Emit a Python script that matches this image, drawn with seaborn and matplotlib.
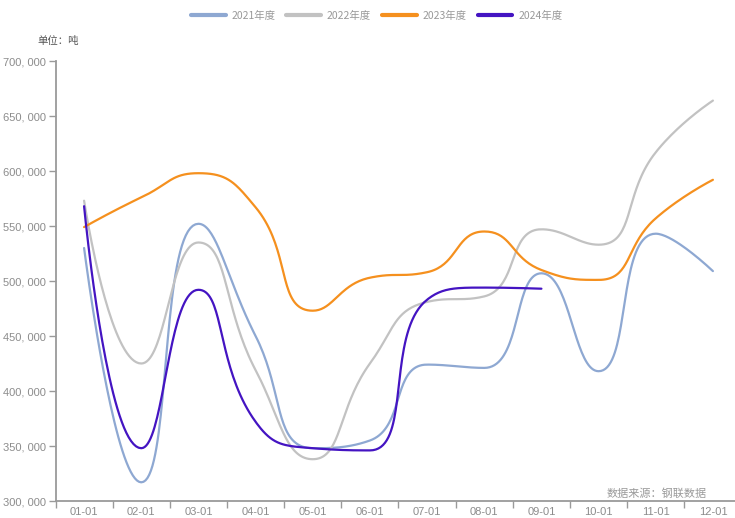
import numpy as np
import pandas as pd
import matplotlib
matplotlib.use("Agg")
import matplotlib.pyplot as plt
import seaborn as sns
from matplotlib.lines import Line2D
from matplotlib.ticker import FixedLocator, NullFormatter, FuncFormatter

# ---- data (tonnes) ----
months = ["01-01", "02-01", "03-01", "04-01", "05-01", "06-01",
          "07-01", "08-01", "09-01", "10-01", "11-01", "12-01"]
years = ["2021年度", "2022年度", "2023年度", "2024年度"]
v2021 = [530000, 317000, 552000, 450000, 348000, 355000,
         424000, 421000, 507000, 418000, 543000, 509000]
v2022 = [573000, 425000, 535000, 419000, 338000, 425000,
         481000, 486000, 547000, 533000, 617000, 664000]
v2023 = [549000, 576000, 598000, 567000, 473000, 503000,
         508000, 545000, 510000, 501000, 557000, 592000]
v2024 = [568000, 348000, 492000, 372000, 348000, 346000,
         483000, 494000, 493000]
series = [v2021, v2022, v2023, v2024]
colors = ["#8EA8D2", "#C2C2C2", "#F5901E", "#4414C2"]

sns.set_theme(style="white")
plt.rcParams["font.family"] = ["Noto Sans CJK SC", "DejaVu Sans"]

W, H = 735, 518
fig = plt.figure(figsize=(W / 100, H / 100), dpi=100)
ax = fig.add_axes([55.5 / W, 17 / H, 686 / W, 440 / H])
ax.set_xlim(-0.5, 11.5)
ax.set_ylim(300000, 700000)


def smooth_points(xs, ys, smooth=0.5, steps=40):
    """Cubic Bezier smoothing in screen space with extreme-point constraint."""
    P = ax.transData.transform(np.column_stack([xs, ys]).astype(float))
    n = len(P)
    out = [P[0]]
    cp0 = P[0].copy()
    t = np.linspace(0, 1, steps)[1:, None]
    for i in range(1, n):
        prev, cur = P[i - 1], P[i]
        if i == n - 1:
            cp1 = cur.copy()
            ncp0 = cur.copy()
        else:
            nxt = P[i + 1]
            v = nxt - prev
            l0 = np.hypot(*(cur - prev))
            l1 = np.hypot(*(nxt - cur))
            r = l1 / (l0 + l1)
            ncp0 = cur + v * smooth * r
            ncp0 = np.minimum(ncp0, np.maximum(nxt, cur))
            ncp0 = np.maximum(ncp0, np.minimum(nxt, cur))
            v = ncp0 - cur
            cp1 = cur - v * l0 / l1
            cp1 = np.minimum(cp1, np.maximum(prev, cur))
            cp1 = np.maximum(cp1, np.minimum(prev, cur))
            v = cur - cp1
            ncp0 = cur + v * l1 / l0
        seg = ((1 - t) ** 3 * prev + 3 * (1 - t) ** 2 * t * cp0
               + 3 * (1 - t) * t ** 2 * cp1 + t ** 3 * cur)
        out.extend(seg)
        cp0 = ncp0
    return ax.transData.inverted().transform(np.array(out))


frames = []
for name, vals in zip(years, series):
    pts = smooth_points(np.arange(len(vals)), vals)
    frames.append(pd.DataFrame({"x": pts[:, 0], "y": pts[:, 1],
                                "year": name, "k": np.arange(len(pts))}))
df = pd.concat(frames, ignore_index=True)

sns.lineplot(data=df, x="x", y="y", hue="year", hue_order=years,
             palette=dict(zip(years, colors)), sort=False, estimator=None,
             linewidth=1.6, legend=False, ax=ax)

ax.set_xlim(-0.5, 11.5)
ax.set_ylim(300000, 700000)
ax.set_xlabel("")
ax.set_ylabel("")

# axes styling
for s in ["top", "right"]:
    ax.spines[s].set_visible(False)
for s in ["left", "bottom"]:
    ax.spines[s].set_color("#9a9a9a")
    ax.spines[s].set_linewidth(1.3)

ax.set_yticks(np.arange(300000, 700001, 50000))
ax.yaxis.set_major_formatter(FuncFormatter(lambda v, p: f"{int(v):,}".replace(",", ", ")))
ax.tick_params(axis="y", direction="out", length=5, width=1, color="#9a9a9a",
               labelcolor="#8c8c8c", labelsize=8, pad=2, left=True)

ax.xaxis.set_major_locator(FixedLocator(np.arange(-0.5, 12, 1)))
ax.xaxis.set_major_formatter(NullFormatter())
ax.xaxis.set_minor_locator(FixedLocator(np.arange(12)))
ax.set_xticklabels(months, minor=True)
ax.tick_params(axis="x", which="major", direction="out", length=5, width=1,
               color="#9a9a9a", bottom=True)
ax.tick_params(axis="x", which="minor", length=0, labelcolor="#8c8c8c",
               labelsize=8, pad=4.5, bottom=True)
for lab in ax.get_yticklabels() + ax.get_xticklabels(minor=True):
    lab.set_family(["Liberation Sans", "DejaVu Sans"])
ax.grid(False)

# legend
handles = [Line2D([0], [0], color=c, lw=3) for c in colors]
fig.legend(handles, years, loc="center", bbox_to_anchor=(376.5 / W, 1 - 16 / H),
           ncol=4, frameon=False, fontsize=7.5, handlelength=3.35,
           handletextpad=0.55, columnspacing=1.05, labelcolor="#999999")

fig.text(37 / W, 1 - 41 / H, "单位：吨", ha="left", va="center",
         fontsize=7.5, color="#555555")
fig.text(607 / W, 1 - 494 / H, "数据来源：钢联数据", ha="left", va="center",
         fontsize=8, color="#9a9a9a")

fig.savefig("out.png", dpi=100)
